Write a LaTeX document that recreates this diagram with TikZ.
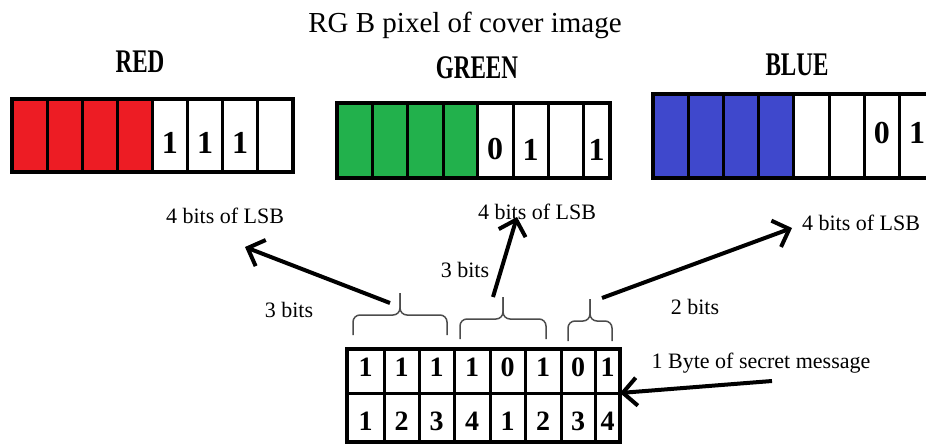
\documentclass[tikz,border=0pt]{standalone}
\usepackage{fontspec}
\setmainfont{Liberation Serif}
\usetikzlibrary{arrows.meta, positioning, calc}
\definecolor{redbit}{HTML}{ED1C24}
\definecolor{greenbit}{HTML}{22B14C}
\definecolor{bluebit}{HTML}{3F48CC}
\newcommand{\chan}[1]{\scalebox{0.7}[1]{\fontsize{33}{36}\selectfont\bfseries #1}}
\begin{document}
\begin{tikzpicture}[x=1pt,y=-1pt,>={Straight Barb[length=14pt,width=28pt]},
        cell/.style={draw,line width=3pt,inner sep=0pt,outer sep=0pt},
        frame/.style={draw,line width=4pt},
        bit/.style={font=\fontsize{32}{34}\selectfont\bfseries,inner sep=0pt},
        msgbit/.style={font=\fontsize{28}{30}\selectfont\bfseries,inner sep=0pt},
        lbl/.style={font=\fontsize{22}{24}\selectfont,anchor=base,inner sep=0pt},
        bracket/.style={draw=gray!60!black,line width=1.5pt,rounded corners=7pt},
        thick arrow/.style={->,line width=4pt}]
    \clip (0,0) rectangle (926,444);
    \fill[white] (0,0) rectangle (926,444);
    % title and channel names
    \node[lbl,font=\fontsize{29}{32}\selectfont] (title) at (465,33) {RG B pixel of cover image};
    \node[anchor=base,inner sep=0pt] (redname) at (140,73) {\chan{RED}};
    \node[anchor=base,inner sep=0pt] (greenname) at (477,78) {\chan{GREEN}};
    \node[anchor=base,inner sep=0pt] (bluename) at (797,75) {\chan{BLUE}};
    % red pixel
    \foreach \i/\c/\d in {1/redbit/,2/redbit/,3/redbit/,4/redbit/,5/white/1,6/white/1,7/white/1,8/white/}{
      \node[cell,fill=\c,minimum width=35.1pt,minimum height=73pt] (r\i) at ({12+35.1*(\i-0.5)},135.5) {};
      \node[bit] at ([yshift=-7pt]r\i.center) {\d};
    }
    \draw[frame] (r1.north west) rectangle (r8.south east);
    % green pixel
    \foreach \i/\xa/\xb/\c/\d in {1/337/372/greenbit/,2/372/407/greenbit/,3/407/443/greenbit/,4/443/477/greenbit/,
        5/477/513/white/0,6/513/548/white/1,7/548/583/white/,8/583/610/white/1}{
      \node[cell,fill=\c,minimum width={(\xb-\xa)*1pt},minimum height=75pt] (g\i) at ({(\xa+\xb)/2},140.5) {};
      \node[bit] at ([yshift=-9pt]g\i.center) {\d};
    }
    \draw[frame] (g1.north west) rectangle (g8.south east);
    % blue pixel
    \foreach \i/\c/\d in {1/bluebit/,2/bluebit/,3/bluebit/,4/bluebit/,5/white/,6/white/,7/white/0,8/white/1}{
      \node[cell,fill=\c,minimum width=35.2pt,minimum height=84pt] (b\i) at ({653+35.2*(\i-0.5)},136) {};
      \node[bit] at ([yshift=3pt]b\i.center) {\d};
    }
    \draw[frame] (b1.north west) rectangle (b8.south east);
    % secret message byte
    \foreach \i/\xa/\xb/\d/\n in {1/347/384/1/1,2/384/419/1/2,3/419/454/1/3,4/454/490/1/4,
        5/490/525/0/1,6/525/561/1/2,7/561/595/0/3,8/595/620/1/4}{
      \node[cell,minimum width={(\xb-\xa)*1pt},minimum height=44pt] (m\i) at ({(\xa+\xb)/2},371) {};
      \node[cell,minimum width={(\xb-\xa)*1pt},minimum height=49pt] (n\i) at ({(\xa+\xb)/2},417.5) {};
      \node[msgbit] at ([yshift=4pt]m\i.center) {\d};
      \node[msgbit] at ([yshift=-4pt]n\i.center) {\n};
    }
    \draw[frame] (m1.north west) rectangle (n8.south east);
    % braces over the groups
    \coordinate (bl1) at (353,335); \coordinate (br1) at (447,335);
    \coordinate (bl2) at (460,339); \coordinate (br2) at (546,339);
    \coordinate (bl3) at (568,341); \coordinate (br3) at (612,341);
    \foreach \k in {1,2,3}{
      \draw[bracket] (bl\k) |- ($(bl\k)!.5!(br\k)+(0,-20)$) -- ($(bl\k)!.5!(br\k)+(0,-42)$);
      \draw[bracket] (br\k) |- ($(bl\k)!.5!(br\k)+(0,-20)$) -- ($(bl\k)!.5!(br\k)+(0,-42)$);
    }
    % labels
    \node[lbl] (lsbred) at (225,223) {4 bits of LSB};
    \node[lbl] (lsbgreen) at (537,219) {4 bits of LSB};
    \node[lbl] (lsbblue) at (861,230) {4 bits of LSB};
    \node[lbl] (cnt1) at (289,317) {3 bits};
    \node[lbl] (cnt2) at (465,277) {3 bits};
    \node[lbl] (cnt3) at (695,314) {2 bits};
    \node[lbl] (secret) at (761,368) {1 Byte of secret message};
    % arrows
    \coordinate (s1) at (390,303); \coordinate (e1) at (245,247);
    \coordinate (s2) at (493,297); \coordinate (e2) at (517,217);
    \coordinate (s3) at (602,298); \coordinate (e3) at (792,228);
    \coordinate (s4) at (772,381);
    \path[thick arrow]
      (s1) edge (e1)
      (s2) edge (e2)
      (s3) edge (e3)
      (s4) edge (m8.south east -| n8.east);
  \end{tikzpicture}
\end{document}
